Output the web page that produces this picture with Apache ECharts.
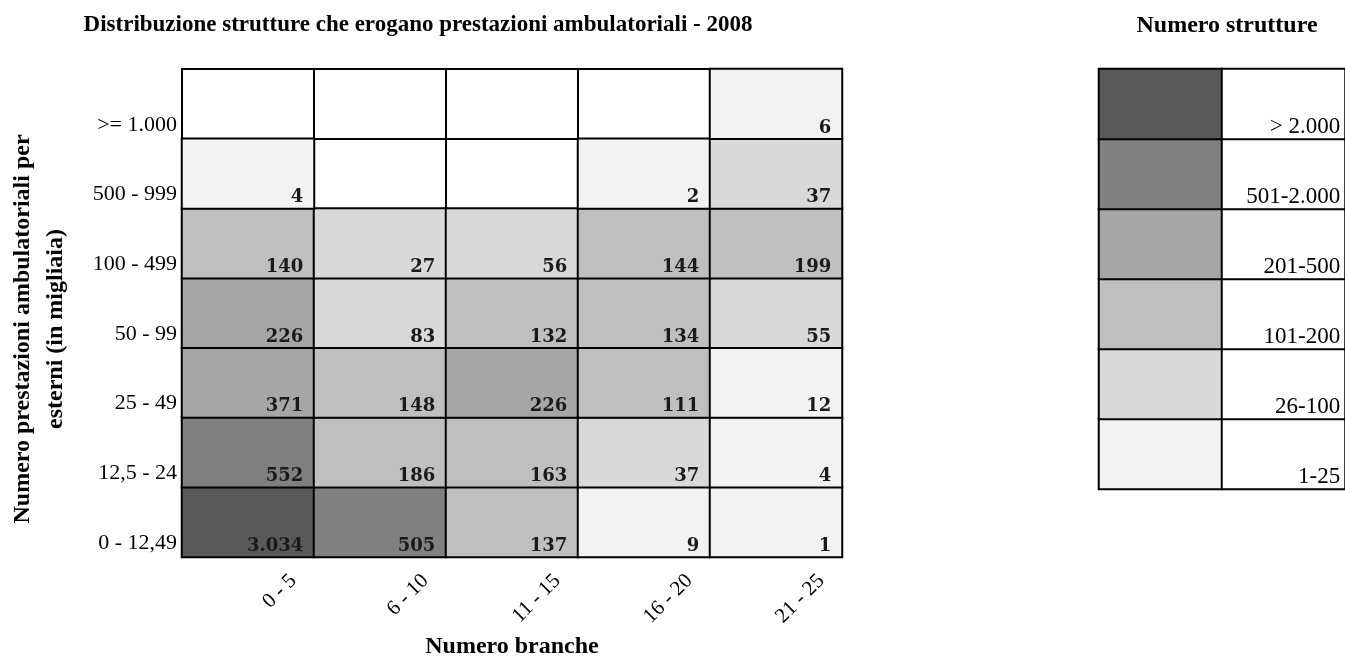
<!DOCTYPE html>
<html>
<head>
<meta charset="utf-8">
<script src="https://cdn.jsdelivr.net/npm/echarts@6/dist/echarts.min.js"></script>
<style>
html,body{margin:0;padding:0;background:#fff;}
#c{width:1345px;height:664px;}
</style>
</head>
<body>
<div id="c"></div>
<script>
// Categories
const branche = ['0 - 5', '6 - 10', '11 - 15', '16 - 20', '21 - 25'];
const prestazioni = ['0 - 12,49', '12,5 - 24', '25 - 49', '50 - 99', '100 - 499', '500 - 999', '>= 1.000'];

// Values per row (row = prestazioni class, columns = branche); null = empty cell
const row_0_12 = [3034, 505, 137, 9, 1];
const row_12_24 = [552, 186, 163, 37, 4];
const row_25_49 = [371, 148, 226, 111, 12];
const row_50_99 = [226, 83, 132, 134, 55];
const row_100_499 = [140, 27, 56, 144, 199];
const row_500_999 = [4, null, null, 2, 37];
const row_1000 = [null, null, null, null, 6];
const rows = [row_0_12, row_12_24, row_25_49, row_50_99, row_100_499, row_500_999, row_1000];

// Legend classes (bottom to top), bounds and colours
const classLabels = ['1-25', '26-100', '101-200', '201-500', '501-2.000', '> 2.000'];
const classMin = [1, 26, 101, 201, 501, 2001];
const classMax = [25, 100, 200, 500, 2000, null];
const classColors = ['#f2f2f2', '#d9d9d9', '#bfbfbf', '#a6a6a6', '#808080', '#595959'];

const mainData = [];
rows.forEach((r, yi) => r.forEach((v, xi) => { if (v != null) mainData.push([xi, yi, v]); }));
const legendColorData = classMin.map((v, i) => [0, i, v]);
const legendTextData = classLabels.map((t, i) => [1, i, 0]);

const fmt = v => String(v).replace(/\B(?=(\d{3})+(?!\d))/g, '.');
const serif = 'Liberation Serif';
const bw = 2;

const chart = echarts.init(document.getElementById('c'), null, {renderer: 'canvas'});
chart.setOption({
  animation: false,
  backgroundColor: '#fff',
  title: [
    {text: 'Distribuzione strutture che erogano prestazioni ambulatoriali - 2008', left: 413, top: 9, textAlign: 'center',
     textStyle: {fontFamily: serif, fontWeight: 'bold', fontSize: 23, color: '#000'}},
    {text: 'Numero strutture', left: 1222, top: 9, textAlign: 'center',
     textStyle: {fontFamily: serif, fontWeight: 'bold', fontSize: 24, color: '#000'}}
  ],
  grid: [
    {left: 182, top: 69, width: 660, height: 491, show: true, borderColor: '#000', borderWidth: bw, containLabel: false},
    {left: 1099, top: 69, width: 246, height: 420, show: true, borderColor: '#000', borderWidth: bw, containLabel: false}
  ],
  xAxis: [
    {type: 'category', gridIndex: 0, data: branche,
     axisLine: {show: true, lineStyle: {color: '#000', width: bw}},
     axisTick: {show: false},
     splitLine: {show: true, lineStyle: {color: '#000', width: bw}},
     axisLabel: {rotate: 45, interval: 0, margin: 66, padding: [0, -64, 0, 0], fontFamily: serif, fontSize: 21, color: '#000'},
     name: 'Numero branche', nameLocation: 'middle', nameGap: 78,
     nameTextStyle: {fontFamily: serif, fontWeight: 'bold', fontSize: 24, color: '#000'}},
    {type: 'category', gridIndex: 1, data: ['c', 't'], show: false,
     splitLine: {show: true, lineStyle: {color: '#000', width: bw}}}
  ],
  yAxis: [
    {type: 'category', gridIndex: 0, data: prestazioni,
     axisLine: {show: true, lineStyle: {color: '#000', width: bw}},
     axisTick: {show: false},
     splitLine: {show: true, lineStyle: {color: '#000', width: bw}},
     axisLabel: {interval: 0, margin: 5, verticalAlign: 'top', lineHeight: 42, fontFamily: serif, fontSize: 22, color: '#000'},
     name: 'Numero prestazioni ambulatoriali per\nesterni (in migliaia)', nameLocation: 'middle', nameGap: 110, nameRotate: 90,
     nameTextStyle: {fontFamily: serif, fontWeight: 'bold', fontSize: 24, lineHeight: 33, color: '#000', padding: [0, 32, 0, 0]}},
    {type: 'category', gridIndex: 1, data: classLabels, show: false,
     splitLine: {show: true, lineStyle: {color: '#000', width: bw}}}
  ],
  visualMap: {
    type: 'piecewise', show: false, seriesIndex: [0, 1], dimension: 2,
    pieces: classMin.map((m, i) => classMax[i] == null ? {gte: m, color: classColors[i]} : {gte: m, lte: classMax[i], color: classColors[i]})
  },
  series: [
    {type: 'heatmap', xAxisIndex: 0, yAxisIndex: 0, data: mainData,
     itemStyle: {borderColor: '#000', borderWidth: bw},
     label: {show: true, position: 'insideBottomRight', distance: 3, offset: [-9, 0],
             formatter: p => fmt(p.value[2]),
             fontFamily: 'DejaVu Serif', fontWeight: 'bold', fontSize: 18, color: '#1a1a1a'},
     emphasis: {disabled: true}},
    {type: 'heatmap', xAxisIndex: 1, yAxisIndex: 1, data: legendColorData,
     itemStyle: {borderColor: '#000', borderWidth: bw},
     label: {show: false}, emphasis: {disabled: true}},
    {type: 'heatmap', xAxisIndex: 1, yAxisIndex: 1, data: legendTextData,
     itemStyle: {color: '#fff', borderColor: '#000', borderWidth: bw},
     label: {show: true, position: 'insideBottomRight', distance: 2, offset: [-4, 0],
             formatter: p => classLabels[p.value[1]],
             fontFamily: serif, fontSize: 23, color: '#000'},
     emphasis: {disabled: true}}
  ]
});
</script>
</body>
</html>
